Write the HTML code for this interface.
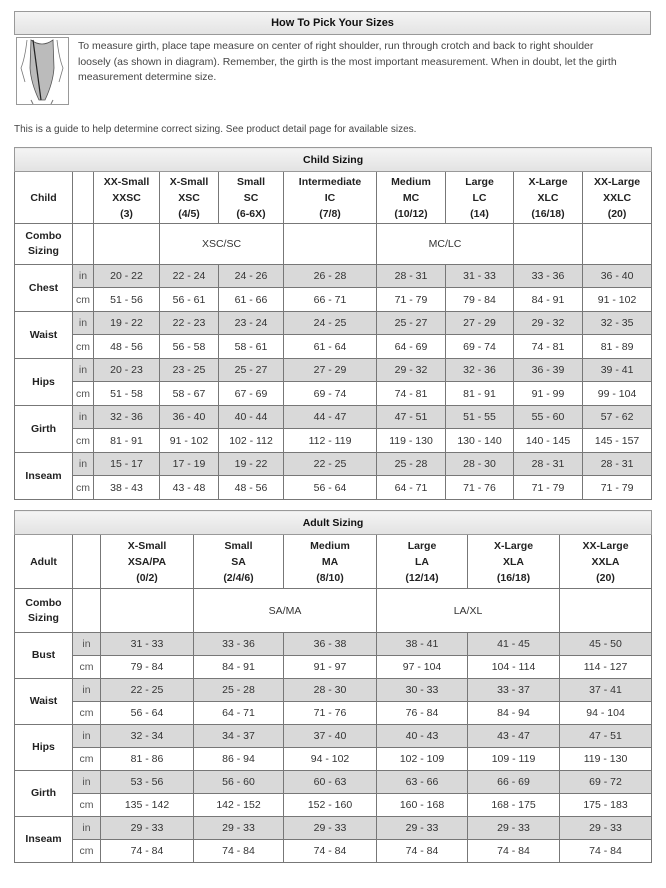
<!DOCTYPE html>
<html><head><meta charset="utf-8"><style>
body{margin:0;width:666px;height:888px;background:#fff;font-family:"Liberation Sans",Arial,sans-serif;color:#333;position:relative;overflow:hidden}
.hdr{position:absolute;left:14px;top:11px;width:635px;height:22px;border:1px solid #999;background:linear-gradient(#f4f4f4,#e4e4e4);font-weight:bold;font-size:11px;color:#111;text-align:center;line-height:22px}
.img{position:absolute;left:16px;top:37px;width:51px;height:66px;border:1px solid #999;background:#fff}
.intro{position:absolute;left:78px;top:39px;width:548px;font-size:10.5px;line-height:15.5px;color:#444}
.guide{position:absolute;left:14px;top:124px;font-size:10px;color:#444}
table{position:absolute;left:14px;border-collapse:collapse;table-layout:fixed;font-size:10.5px}
td{border:1px solid #777;text-align:center;padding:0;overflow:hidden;white-space:nowrap}
td.t{background:linear-gradient(#f4f4f4,#e2e2e2);font-weight:bold;color:#111;border-color:#999}
.h td{font-weight:bold;color:#222;line-height:16px}
td.b{font-weight:bold;color:#222;line-height:15px}
tr.g td{background:#d9d9d9}
tr.g td.w{background:#fff}
td.u{color:#555}
</style></head><body>
<div class="hdr">How To Pick Your Sizes</div>
<div class="img"><svg width="51" height="66" viewBox="0 0 51 66"><path d="M10 2 Q8 20 4 30 L8 44 M40 2 Q42 20 46 30 L42 44" stroke="#777" fill="none" stroke-width="0.8"/><path d="M14 2 Q25 10 36 2 L37 30 Q36 45 28 62 L22 62 Q14 45 13 30Z" fill="#bbb" stroke="#555" stroke-width="0.8"/><path d="M16 2 L24 62" stroke="#222" stroke-width="1.2"/><path d="M14 62 L16 66 M36 62 L34 66" stroke="#777"/></svg></div>
<div class="intro">To measure girth, place tape measure on center of right shoulder, run through crotch and back to right shoulder loosely (as shown in diagram). Remember, the girth is the most important measurement. When in doubt, let the girth measurement determine size.</div>
<div class="guide">This is a guide to help determine correct sizing. See product detail page for available sizes.</div>

<table style="top:147px;width:637px">
<colgroup><col style="width:58px"><col style="width:21px"><col style="width:66px"><col style="width:59px"><col style="width:65px"><col style="width:93px"><col style="width:69px"><col style="width:68px"><col style="width:69px"><col style="width:69px"></colgroup>
<tr style="height:24px"><td class="t" colspan="10">Child Sizing</td></tr>
<tr class="h" style="height:52px"><td>Child</td><td></td><td>XX-Small<br>XXSC<br>(3)</td><td>X-Small<br>XSC<br>(4/5)</td><td>Small<br>SC<br>(6-6X)</td><td>Intermediate<br>IC<br>(7/8)</td><td>Medium<br>MC<br>(10/12)</td><td>Large<br>LC<br>(14)</td><td>X-Large<br>XLC<br>(16/18)</td><td>XX-Large<br>XXLC<br>(20)</td></tr>
<tr style="height:41px"><td class="b">Combo<br>Sizing</td><td></td><td></td><td colspan="2">XSC/SC</td><td></td><td colspan="2">MC/LC</td><td></td><td></td></tr>
<tr class="g" style="height:23px"><td class="b w" rowspan="2">Chest</td><td class="u">in</td><td>20 - 22</td><td>22 - 24</td><td>24 - 26</td><td>26 - 28</td><td>28 - 31</td><td>31 - 33</td><td>33 - 36</td><td>36 - 40</td></tr>
<tr style="height:24px"><td class="u">cm</td><td>51 - 56</td><td>56 - 61</td><td>61 - 66</td><td>66 - 71</td><td>71 - 79</td><td>79 - 84</td><td>84 - 91</td><td>91 - 102</td></tr>
<tr class="g" style="height:23px"><td class="b w" rowspan="2">Waist</td><td class="u">in</td><td>19 - 22</td><td>22 - 23</td><td>23 - 24</td><td>24 - 25</td><td>25 - 27</td><td>27 - 29</td><td>29 - 32</td><td>32 - 35</td></tr>
<tr style="height:24px"><td class="u">cm</td><td>48 - 56</td><td>56 - 58</td><td>58 - 61</td><td>61 - 64</td><td>64 - 69</td><td>69 - 74</td><td>74 - 81</td><td>81 - 89</td></tr>
<tr class="g" style="height:23px"><td class="b w" rowspan="2">Hips</td><td class="u">in</td><td>20 - 23</td><td>23 - 25</td><td>25 - 27</td><td>27 - 29</td><td>29 - 32</td><td>32 - 36</td><td>36 - 39</td><td>39 - 41</td></tr>
<tr style="height:24px"><td class="u">cm</td><td>51 - 58</td><td>58 - 67</td><td>67 - 69</td><td>69 - 74</td><td>74 - 81</td><td>81 - 91</td><td>91 - 99</td><td>99 - 104</td></tr>
<tr class="g" style="height:23px"><td class="b w" rowspan="2">Girth</td><td class="u">in</td><td>32 - 36</td><td>36 - 40</td><td>40 - 44</td><td>44 - 47</td><td>47 - 51</td><td>51 - 55</td><td>55 - 60</td><td>57 - 62</td></tr>
<tr style="height:24px"><td class="u">cm</td><td>81 - 91</td><td>91 - 102</td><td>102 - 112</td><td>112 - 119</td><td>119 - 130</td><td>130 - 140</td><td>140 - 145</td><td>145 - 157</td></tr>
<tr class="g" style="height:23px"><td class="b w" rowspan="2">Inseam</td><td class="u">in</td><td>15 - 17</td><td>17 - 19</td><td>19 - 22</td><td>22 - 25</td><td>25 - 28</td><td>28 - 30</td><td>28 - 31</td><td>28 - 31</td></tr>
<tr style="height:24px"><td class="u">cm</td><td>38 - 43</td><td>43 - 48</td><td>48 - 56</td><td>56 - 64</td><td>64 - 71</td><td>71 - 76</td><td>71 - 79</td><td>71 - 79</td></tr>
</table>

<table style="top:510px;width:637px">
<colgroup><col style="width:58px"><col style="width:28px"><col style="width:93px"><col style="width:90px"><col style="width:93px"><col style="width:91px"><col style="width:92px"><col style="width:92px"></colgroup>
<tr style="height:24px"><td class="t" colspan="8">Adult Sizing</td></tr>
<tr class="h" style="height:54px"><td>Adult</td><td></td><td>X-Small<br>XSA/PA<br>(0/2)</td><td>Small<br>SA<br>(2/4/6)</td><td>Medium<br>MA<br>(8/10)</td><td>Large<br>LA<br>(12/14)</td><td>X-Large<br>XLA<br>(16/18)</td><td>XX-Large<br>XXLA<br>(20)</td></tr>
<tr style="height:44px"><td class="b">Combo<br>Sizing</td><td></td><td></td><td colspan="2">SA/MA</td><td colspan="2">LA/XL</td><td></td></tr>
<tr class="g" style="height:23px"><td class="b w" rowspan="2">Bust</td><td class="u">in</td><td>31 - 33</td><td>33 - 36</td><td>36 - 38</td><td>38 - 41</td><td>41 - 45</td><td>45 - 50</td></tr>
<tr style="height:23px"><td class="u">cm</td><td>79 - 84</td><td>84 - 91</td><td>91 - 97</td><td>97 - 104</td><td>104 - 114</td><td>114 - 127</td></tr>
<tr class="g" style="height:23px"><td class="b w" rowspan="2">Waist</td><td class="u">in</td><td>22 - 25</td><td>25 - 28</td><td>28 - 30</td><td>30 - 33</td><td>33 - 37</td><td>37 - 41</td></tr>
<tr style="height:23px"><td class="u">cm</td><td>56 - 64</td><td>64 - 71</td><td>71 - 76</td><td>76 - 84</td><td>84 - 94</td><td>94 - 104</td></tr>
<tr class="g" style="height:23px"><td class="b w" rowspan="2">Hips</td><td class="u">in</td><td>32 - 34</td><td>34 - 37</td><td>37 - 40</td><td>40 - 43</td><td>43 - 47</td><td>47 - 51</td></tr>
<tr style="height:23px"><td class="u">cm</td><td>81 - 86</td><td>86 - 94</td><td>94 - 102</td><td>102 - 109</td><td>109 - 119</td><td>119 - 130</td></tr>
<tr class="g" style="height:23px"><td class="b w" rowspan="2">Girth</td><td class="u">in</td><td>53 - 56</td><td>56 - 60</td><td>60 - 63</td><td>63 - 66</td><td>66 - 69</td><td>69 - 72</td></tr>
<tr style="height:23px"><td class="u">cm</td><td>135 - 142</td><td>142 - 152</td><td>152 - 160</td><td>160 - 168</td><td>168 - 175</td><td>175 - 183</td></tr>
<tr class="g" style="height:23px"><td class="b w" rowspan="2">Inseam</td><td class="u">in</td><td>29 - 33</td><td>29 - 33</td><td>29 - 33</td><td>29 - 33</td><td>29 - 33</td><td>29 - 33</td></tr>
<tr style="height:23px"><td class="u">cm</td><td>74 - 84</td><td>74 - 84</td><td>74 - 84</td><td>74 - 84</td><td>74 - 84</td><td>74 - 84</td></tr>
</table>
</body></html>
